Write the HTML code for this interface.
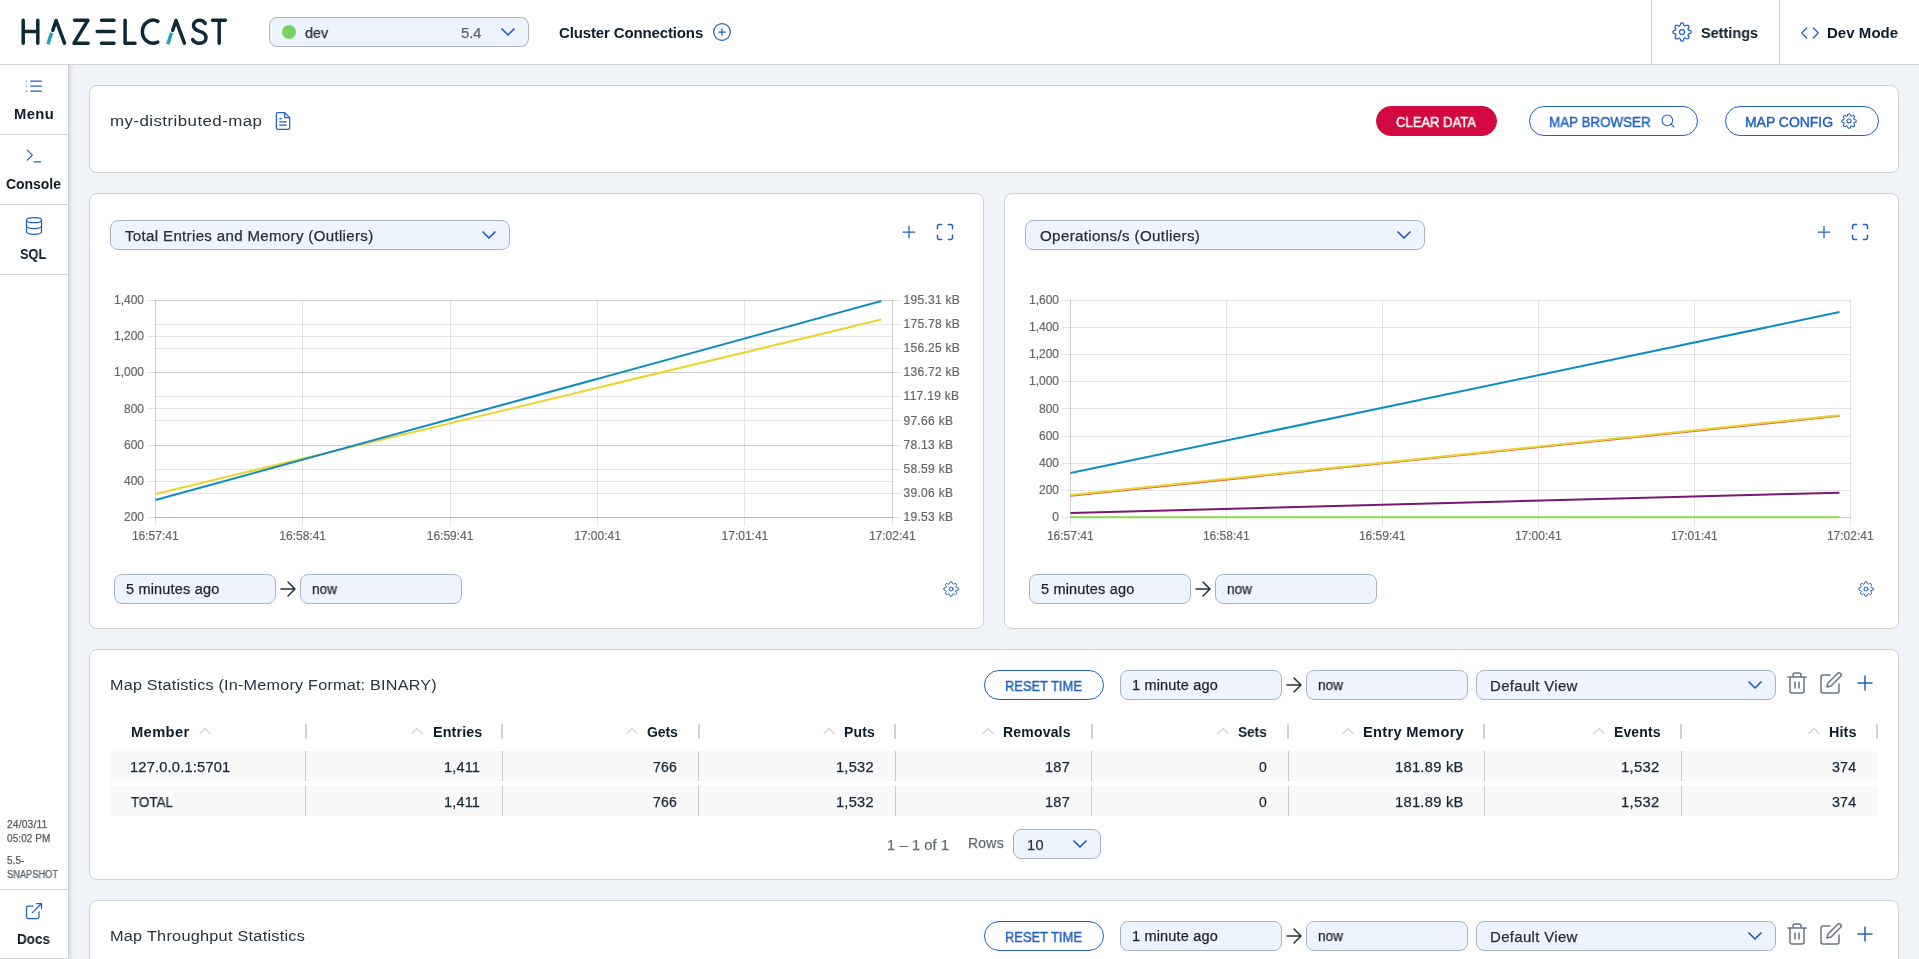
<!DOCTYPE html>
<html lang="en">
<head>
<meta charset="utf-8">
<title>Hazelcast Management Center - my-distributed-map</title>
<style>
*{box-sizing:border-box;margin:0;padding:0}
html,body{width:1919px;height:959px;overflow:hidden}
body{position:relative;background:#f0f3f8;font-family:"Liberation Sans",sans-serif;color:#1c2733;-webkit-font-smoothing:antialiased}
.t{position:absolute;white-space:nowrap;line-height:1;font-size:14px;will-change:transform}
.t{-webkit-text-stroke:.25px currentColor}
.b{font-weight:700;-webkit-text-stroke:0}
h1.t,h2.t{-webkit-text-stroke:0;color:#2b3743}
svg{position:absolute;overflow:visible}
svg.plot{will-change:transform}
svg.plot text{stroke:#666;stroke-width:.2px}
.ic{fill:none;stroke:#2160c0;stroke-width:1.5;stroke-linecap:round;stroke-linejoin:round}
.ig{fill:none;stroke:#6b7385;stroke-width:1.5;stroke-linecap:round;stroke-linejoin:round}
.id{fill:none;stroke:#27303d;stroke-width:1.5;stroke-linecap:round;stroke-linejoin:round}
/* header */
header{position:absolute;left:0;top:0;width:1919px;height:65px;background:#fff;border-bottom:1px solid #d2d2d2}
.vsep{position:absolute;top:0;width:1px;height:64px;background:#d2d2d2}
/* sidebar */
nav{position:absolute;left:0;top:65px;width:69px;height:894px;background:#fff;border-right:1px solid #cfcfcf}
nav .item{position:absolute;left:0;width:68px;height:70px;border-bottom:1px solid #d6d6d6}
nav .item svg{left:24px;top:11px;width:20px;height:20px}
.shade{position:absolute;left:69px;top:65px;width:5px;height:894px;background:linear-gradient(90deg,rgba(125,132,150,.19),rgba(125,132,150,0))}
/* cards */
.card{position:absolute;background:#fff;border:1px solid #d1d1d1;border-radius:8px}
/* inputs */
.inp{position:absolute;height:30px;background:#eef4fe;border:1px solid #a9b4c1;border-radius:8px}
.btn{position:absolute;height:30px;border:1px solid #2160c0;border-radius:15px;background:#fff;color:#2160c0}
.btn.red{background:#d3083f;border-color:#d3083f;color:#fff}
.blue{color:#2160c0;-webkit-text-stroke:.4px currentColor}
.grey{color:#5d6470}
/* table */
.row{position:absolute;left:20px;width:1768px;height:30px;background:#f9f9f9}
.cs{position:absolute;width:1px;background:#cbcbcb}
.hs{position:absolute;width:2px;height:15px;background:#d2d2d2;top:75px}
</style>
</head>
<body>
<svg width="0" height="0" style="left:-10px;top:-10px"><defs>
    <symbol id="gear" viewBox="0 0 24 24"><circle cx="12" cy="12" r="3"/><path d="M19.4 15a1.65 1.65 0 0 0 .33 1.82l.06.06a2 2 0 0 1 0 2.83 2 2 0 0 1-2.83 0l-.06-.06a1.65 1.65 0 0 0-1.82-.33 1.65 1.65 0 0 0-1 1.51V21a2 2 0 0 1-2 2 2 2 0 0 1-2-2v-.09A1.65 1.65 0 0 0 9 19.4a1.65 1.65 0 0 0-1.82.33l-.06.06a2 2 0 0 1-2.83 0 2 2 0 0 1 0-2.83l.06-.06a1.65 1.65 0 0 0 .33-1.82 1.65 1.65 0 0 0-1.51-1H3a2 2 0 0 1-2-2 2 2 0 0 1 2-2h.09A1.65 1.65 0 0 0 4.6 9a1.65 1.65 0 0 0-.33-1.82l-.06-.06a2 2 0 0 1 0-2.83 2 2 0 0 1 2.83 0l.06.06a1.65 1.65 0 0 0 1.82.33H9a1.65 1.65 0 0 0 1-1.51V3a2 2 0 0 1 2-2 2 2 0 0 1 2 2v.09a1.65 1.65 0 0 0 1 1.51 1.65 1.65 0 0 0 1.82-.33l.06-.06a2 2 0 0 1 2.83 0 2 2 0 0 1 0 2.83l-.06.06a1.65 1.65 0 0 0-.33 1.82V9a1.65 1.65 0 0 0 1.51 1H21a2 2 0 0 1 2 2 2 2 0 0 1-2 2h-.09a1.65 1.65 0 0 0-1.51 1z"/></symbol>
    <symbol id="chev" viewBox="0 0 24 24"><path d="M6 9l6 6 6-6"/></symbol>
    <symbol id="up" viewBox="0 0 24 24"><path d="M18 15l-6-6-6 6"/></symbol>
    <symbol id="plus" viewBox="0 0 24 24"><path d="M12 5v14M5 12h14"/></symbol>
    <symbol id="arrow" viewBox="0 0 24 24"><path d="M5 12h14M12 5l7 7-7 7"/></symbol>
    <symbol id="max" viewBox="0 0 24 24"><path d="M8 3H5a2 2 0 0 0-2 2v3m18 0V5a2 2 0 0 0-2-2h-3m0 18h3a2 2 0 0 0 2-2v-3M3 16v3a2 2 0 0 0 2 2h3"/></symbol>
    <symbol id="trash" viewBox="0 0 24 24"><path d="M3 6h18M19 6v14a2 2 0 0 1-2 2H7a2 2 0 0 1-2-2V6m3 0V4a2 2 0 0 1 2-2h4a2 2 0 0 1 2 2v2M10 11v6M14 11v6"/></symbol>
    <symbol id="edit" viewBox="0 0 24 24"><path d="M11 4H4a2 2 0 0 0-2 2v14a2 2 0 0 0 2 2h14a2 2 0 0 0 2-2v-7"/><path d="M18.5 2.5a2.121 2.121 0 0 1 3 3L12 15l-4 1 1-4 9.5-9.5z"/></symbol>
  </defs></svg>

<header>
  <svg style="left:0;top:0;width:240px;height:64px" viewBox="0 0 240 64" fill="none" stroke="#0e2836" stroke-width="3.5" stroke-linecap="round" stroke-linejoin="round">
    <path d="M23.2 20.2V43.2M37.8 20.2V43.2M23.2 31.5H37.8"/>
    <path d="M52.8 30.3L56.1 20.5L64.5 43.2" />
    <path d="M51.6 32.7L47.9 44.3" stroke="#22a3b8" stroke-linecap="butt"/>
    <path d="M74.6 20.2H88L74 43.2H88.1"/>
    <path d="M101.5 20.2H114M97.2 31.5H114M101.5 43.2H114"/>
    <path d="M125.1 20.2V43.2H135"/>
    <path d="M157.8 21.4A10.7 11.5 0 1 0 157.8 42"/>
    <path d="M172.7 30.3L176 20.5L184.4 43.2"/>
    <path d="M171.5 32.7L167.8 44.3" stroke="#22a3b8" stroke-linecap="butt"/>
    <path d="M205.2 23.4C203.9 21.3 201.9 20.2 199.5 20.2C196 20.2 193.5 22.4 193.5 25.6C193.5 29 196.3 30.4 199.6 31.4C203.2 32.5 206 34 206 37.4C206 40.8 203.2 43.2 199.5 43.2C196.5 43.2 194 41.9 192.7 39.6"/>
    <path d="M212.5 20.2H225.4M219.2 20.2V43.2"/>
  </svg>
  <div class="inp" style="left:269px;top:17px;width:260px">
    <i style="position:absolute;left:12px;top:7px;width:14px;height:14px;border-radius:50%;background:#78d168"></i>
  </div>
  <span class="t" style="left:305px;top:25px;transform:scaleX(0.9561);transform-origin:0 50%;font-size:15px;color:#2a2f36">dev</span>
  <span class="t" style="left:461px;top:25px;letter-spacing:-0.205px;font-size:15px;color:#5b626c">5.4</span>
  <svg class="ic" style="left:496px;top:20px;width:24px;height:24px;stroke-width:1.7"><use href="#chev"/></svg>
  <span class="t b" style="left:559px;top:25px;letter-spacing:-0.136px;font-size:15px;color:#0f1b28">Cluster Connections</span>
  <svg class="ic" style="left:712px;top:22px;width:20px;height:20px" viewBox="0 0 24 24"><circle cx="12" cy="12" r="10"/><path d="M12 8v8M8 12h8"/></svg>
  <div class="vsep" style="left:1651px"></div>
  <div class="vsep" style="left:1779px"></div>
  <svg class="ic" style="left:1671.85px;top:22px;width:20px;height:20px"><use href="#gear"/></svg>
  <svg class="ic" style="left:1800px;top:22.5px;width:20px;height:20px" viewBox="0 0 24 24"><path d="M16 18l6-6-6-6M8 6l-6 6 6 6"/></svg>
  <span class="t b" style="left:1701px;top:25px;transform:scaleX(0.9638);transform-origin:0 50%;font-size:15px;color:#0f1b28">Settings</span>
  <span class="t b" style="left:1827px;top:25px;letter-spacing:0.042px;font-size:15px;color:#0f1b28">Dev Mode</span>
</header>

<nav>
  <div class="item" style="top:0">
    <svg class="ic" viewBox="0 0 24 24"><path d="M8 6h13M8 12h13M8 18h13M3 6h.01M3 12h.01M3 18h.01"/></svg>
  </div>
  <div class="item" style="top:70px">
    <svg class="ic" viewBox="0 0 24 24"><path d="M4 17l6-6-6-6M12 19h8"/></svg>
  </div>
  <div class="item" style="top:140px">
    <svg class="ic" viewBox="0 0 24 24"><ellipse cx="12" cy="5" rx="9" ry="3"/><path d="M21 12c0 1.66-4 3-9 3s-9-1.34-9-3"/><path d="M3 5v14c0 1.66 4 3 9 3s9-1.34 9-3V5"/></svg>
  </div>
  <div class="item" style="top:824px;height:70px;border-top:1px solid #d6d6d6">
    <svg class="ic" style="top:11px" viewBox="0 0 24 24"><path d="M18 13v6a2 2 0 0 1-2 2H5a2 2 0 0 1-2-2V8a2 2 0 0 1 2-2h6M15 3h6v6M10 14L21 3"/></svg>
  </div>
</nav>
<div class="shade"></div>
<span class="t b" style="left:14px;top:107px;letter-spacing:0.405px;transform:scaleX(1.0533);transform-origin:0 50%;color:#0f1b28">Menu</span>
<span class="t b" style="left:6px;top:177px;letter-spacing:-0.04px;color:#0f1b28">Console</span>
<span class="t b" style="left:20px;top:247px;transform:scaleX(0.9135);transform-origin:0 50%;color:#0f1b28">SQL</span>
<span class="t b" style="left:17px;top:932px;transform:scaleX(0.9609);transform-origin:0 50%;color:#0f1b28">Docs</span>
<span class="t" style="left:7px;top:820px;letter-spacing:0.115px;transform:scaleX(1.0323);transform-origin:0 50%;font-size:10px;color:#555c66">24/03/11</span>
<span class="t" style="left:7px;top:834px;letter-spacing:0.075px;font-size:10px;color:#555c66">05:02 PM</span>
<span class="t" style="left:7px;top:856px;letter-spacing:0.033px;font-size:10px;color:#555c66">5.5-</span>
<span class="t" style="left:7px;top:870px;transform:scaleX(0.9271);transform-origin:0 50%;font-size:10px;color:#555c66">SNAPSHOT</span>

<main>
<!-- card 1: title -->
<section class="card" style="left:89px;top:85px;width:1810px;height:88px">
  <h1 class="t" style="left:20px;top:27px;letter-spacing:0.415px;transform:scaleX(1.0878);transform-origin:0 50%;font-size:15.5px;font-weight:400;color:#27333f">my-distributed-map</h1>
  <svg class="ic" style="left:183.14999999999998px;top:25px;width:20px;height:20px" viewBox="0 0 24 24"><path d="M14 2H6a2 2 0 0 0-2 2v16a2 2 0 0 0 2 2h12a2 2 0 0 0 2-2V8zM14 2v6h6M16 13H8M16 17H8M10 9H8"/></svg>
  <div class="btn red" style="left:1286px;top:20px;width:121px"></div>
  <span class="t" style="left:1306px;top:29px;transform:scaleX(0.9319);transform-origin:0 50%;color:#fff;-webkit-text-stroke:.4px #fff">CLEAR DATA</span>
  <div class="btn" style="left:1439px;top:20px;width:169px"></div>
  <span class="t blue" style="left:1459px;top:29px;transform:scaleX(0.9559);transform-origin:0 50%;">MAP BROWSER</span>
  <svg class="ic" style="left:1569.85px;top:27px;width:16px;height:16px;stroke-width:1.6" viewBox="0 0 24 24"><circle cx="11" cy="11" r="8"/><path d="M21 21l-4.35-4.35"/></svg>
  <div class="btn" style="left:1635px;top:20px;width:154px"></div>
  <span class="t blue" style="left:1655px;top:29px;letter-spacing:-0.042px;">MAP CONFIG</span>
  <svg class="ic" style="left:1750.7px;top:27px;width:16px;height:16px;stroke-width:1.6"><use href="#gear"/></svg>
</section>

<!-- card 2: left chart -->
<section class="card" style="left:89px;top:193px;width:895px;height:436px">
  <svg class="plot" style="left:0;top:0;width:893px;height:434px" viewBox="90 194 893 434" font-family="Liberation Sans, sans-serif" font-size="12" fill="#666">
   <g stroke="rgba(0,0,0,0.1)" stroke-width="1" shape-rendering="crispEdges">
    <path d="M147 300.5H893"/>
    <path d="M147 336.5H893"/>
    <path d="M147 372.5H893"/>
    <path d="M147 408.5H893"/>
    <path d="M147 445.5H893"/>
    <path d="M147 481.5H893"/>
    <path d="M147 517.5H893"/>
    <path d="M155 300.5H901"/>
    <path d="M155 324.5H901"/>
    <path d="M155 348.5H901"/>
    <path d="M155 372.5H901"/>
    <path d="M155 396.5H901"/>
    <path d="M155 420.5H901"/>
    <path d="M155 445.5H901"/>
    <path d="M155 469.5H901"/>
    <path d="M155 493.5H901"/>
    <path d="M155 517.5H901"/>
    <path d="M155.5 300V526"/>
    <path d="M302.5 300V526"/>
    <path d="M450.5 300V526"/>
    <path d="M597.5 300V526"/>
    <path d="M744.5 300V526"/>
    <path d="M892.5 300V526"/>
    <path d="M155.5 300V518"/>
    <path d="M155 517.5H893"/>
    <path d="M892.5 300V518"/>
   </g>
   <g text-anchor="end">
    <text x="144" y="304">1,400</text>
    <text x="144" y="340.17">1,200</text>
    <text x="144" y="376.33">1,000</text>
    <text x="144" y="412.5">800</text>
    <text x="144" y="448.67">600</text>
    <text x="144" y="484.83">400</text>
    <text x="144" y="521">200</text>
   </g>
   <g letter-spacing=".28">
    <text x="903.6" y="304">195.31 kB</text>
    <text x="903.6" y="328.11">175.78 kB</text>
    <text x="903.6" y="352.22">156.25 kB</text>
    <text x="903.6" y="376.33">136.72 kB</text>
    <text x="903.6" y="400.44">117.19 kB</text>
    <text x="903.6" y="424.56">97.66 kB</text>
    <text x="903.6" y="448.67">78.13 kB</text>
    <text x="903.6" y="472.78">58.59 kB</text>
    <text x="903.6" y="496.89">39.06 kB</text>
    <text x="903.6" y="521">19.53 kB</text>
   </g>
   <g text-anchor="middle">
    <text x="155.3" y="540.3">16:57:41</text>
    <text x="302.7" y="540.3">16:58:41</text>
    <text x="450.1" y="540.3">16:59:41</text>
    <text x="597.5" y="540.3">17:00:41</text>
    <text x="744.9" y="540.3">17:01:41</text>
    <text x="892.3" y="540.3">17:02:41</text>
   </g>
   <g fill="none" stroke-width="2" stroke-linejoin="round">
    <path stroke="#ecd42d" d="M155.5 494L881.5 319.5"/>
    <path stroke="#0f8cc6" d="M155.5 500L881.5 301"/>
   </g>
  </svg>
  <div class="inp" style="left:20px;top:26px;width:400px"></div>
  <span class="t" style="left:35px;top:35px;letter-spacing:0.306px;transform:scaleX(1.0765);transform-origin:0 50%;color:#2a2f36">Total Entries and Memory (Outliers)</span>
  <svg class="ic" style="left:387px;top:29px;width:24px;height:24px;stroke-width:1.7"><use href="#chev"/></svg>
  <svg class="ic" style="left:809px;top:28px;width:20px;height:20px"><use href="#plus"/></svg>
  <svg class="ic" style="left:844.85px;top:27.900000000000006px;width:20px;height:20px;stroke-width:1.8"><use href="#max"/></svg>
  <div class="inp" style="left:24px;top:380px;width:162px"></div>
  <span class="t" style="left:36px;top:388px;letter-spacing:0.172px;transform:scaleX(1.0364);transform-origin:0 50%;color:#1d232b">5 minutes ago</span>
  <svg class="id" style="left:185.8px;top:382.75px;width:24px;height:24px"><use href="#arrow"/></svg>
  <div class="inp" style="left:210px;top:380px;width:162px"></div>
  <span class="t" style="left:222px;top:388px;transform:scaleX(0.9747);transform-origin:0 50%;color:#1d232b">now</span>
  <svg class="ic" style="left:853px;top:387px;width:16px;height:16px;stroke-width:1.5"><use href="#gear"/></svg>
</section>

<!-- card 3: right chart -->
<section class="card" style="left:1004px;top:193px;width:895px;height:436px">
  <svg class="plot" style="left:0;top:0;width:893px;height:434px" viewBox="1005 194 893 434" font-family="Liberation Sans, sans-serif" font-size="12" fill="#666">
   <g stroke="rgba(0,0,0,0.1)" stroke-width="1" shape-rendering="crispEdges">
    <path d="M1062 300.5H1851"/>
    <path d="M1062 327.5H1851"/>
    <path d="M1062 354.5H1851"/>
    <path d="M1062 381.5H1851"/>
    <path d="M1062 408.5H1851"/>
    <path d="M1062 436.5H1851"/>
    <path d="M1062 463.5H1851"/>
    <path d="M1062 490.5H1851"/>
    <path d="M1062 517.5H1851"/>
    <path d="M1070.5 300V526"/>
    <path d="M1226.5 300V526"/>
    <path d="M1382.5 300V526"/>
    <path d="M1538.5 300V526"/>
    <path d="M1694.5 300V526"/>
    <path d="M1850.5 300V526"/>
    <path d="M1070.5 300V518"/>
    <path d="M1070 517.5H1851"/>
   </g>
   <g text-anchor="end">
    <text x="1059" y="304">1,600</text>
    <text x="1059" y="331.12">1,400</text>
    <text x="1059" y="358.25">1,200</text>
    <text x="1059" y="385.38">1,000</text>
    <text x="1059" y="412.5">800</text>
    <text x="1059" y="439.62">600</text>
    <text x="1059" y="466.75">400</text>
    <text x="1059" y="493.88">200</text>
    <text x="1059" y="521">0</text>
   </g>
   <g text-anchor="middle">
    <text x="1070.3" y="540.3">16:57:41</text>
    <text x="1226.3" y="540.3">16:58:41</text>
    <text x="1382.3" y="540.3">16:59:41</text>
    <text x="1538.3" y="540.3">17:00:41</text>
    <text x="1694.3" y="540.3">17:01:41</text>
    <text x="1850.3" y="540.3">17:02:41</text>
   </g>
   <g fill="none" stroke-width="2" stroke-linejoin="round">
    <path stroke="#86da4f" d="M1070.5 517.2L1839.5 517.2"/>
    <path stroke="#7c1671" d="M1070.5 513.1L1839.5 492.7"/>
    <path stroke="#d9534f" d="M1070.5 495.65L1839.5 415.85"/>
    <path stroke="#ecd42d" d="M1070.5 495.1L1839.5 415.3"/>
    <path stroke="#0f8cc6" d="M1070.5 473.1L1839.5 312.1"/>
   </g>
  </svg>
  <div class="inp" style="left:20px;top:26px;width:400px"></div>
  <span class="t" style="left:35px;top:35px;letter-spacing:0.32px;transform:scaleX(1.0815);transform-origin:0 50%;color:#2a2f36">Operations/s (Outliers)</span>
  <svg class="ic" style="left:387px;top:29px;width:24px;height:24px;stroke-width:1.7"><use href="#chev"/></svg>
  <svg class="ic" style="left:809px;top:28px;width:20px;height:20px"><use href="#plus"/></svg>
  <svg class="ic" style="left:844.8499999999999px;top:27.900000000000006px;width:20px;height:20px;stroke-width:1.8"><use href="#max"/></svg>
  <div class="inp" style="left:24px;top:380px;width:162px"></div>
  <span class="t" style="left:36px;top:388px;letter-spacing:0.172px;transform:scaleX(1.0364);transform-origin:0 50%;color:#1d232b">5 minutes ago</span>
  <svg class="id" style="left:185.79999999999995px;top:382.75px;width:24px;height:24px"><use href="#arrow"/></svg>
  <div class="inp" style="left:210px;top:380px;width:162px"></div>
  <span class="t" style="left:222px;top:388px;transform:scaleX(0.9747);transform-origin:0 50%;color:#1d232b">now</span>
  <svg class="ic" style="left:853px;top:387px;width:16px;height:16px;stroke-width:1.5"><use href="#gear"/></svg>
</section>

<!-- card 4: map statistics -->
<section class="card" style="left:89px;top:649px;width:1810px;height:231px">
  <h2 class="t" style="left:20px;top:27px;letter-spacing:0.211px;transform:scaleX(1.0436);transform-origin:0 50%;font-size:15.5px;font-weight:400;color:#27333f">Map Statistics (In-Memory Format: BINARY)</h2>
  <div class="btn" style="left:894px;top:20px;width:120px"></div>
  <span class="t blue" style="left:915px;top:29px;transform:scaleX(0.9217);transform-origin:0 50%;">RESET TIME</span>
  <div class="inp" style="left:1030px;top:20px;width:162px"></div>
  <span class="t" style="left:1042px;top:28px;letter-spacing:0.17px;transform:scaleX(1.0362);transform-origin:0 50%;color:#1d232b">1 minute ago</span>
  <svg class="id" style="left:1192.1px;top:23px;width:24px;height:24px"><use href="#arrow"/></svg>
  <div class="inp" style="left:1216px;top:20px;width:162px"></div>
  <span class="t" style="left:1228px;top:28px;transform:scaleX(0.9747);transform-origin:0 50%;color:#1d232b">now</span>
  <div class="inp" style="left:1386px;top:20px;width:300px"></div>
  <span class="t" style="left:1400px;top:29px;letter-spacing:0.308px;transform:scaleX(1.0696);transform-origin:0 50%;color:#2a2f36">Default View</span>
  <svg class="ic" style="left:1652.85px;top:23px;width:24px;height:24px;stroke-width:1.7"><use href="#chev"/></svg>
  <svg class="ig" style="left:1695px;top:21px;width:24px;height:24px"><use href="#trash"/></svg>
  <svg class="ig" style="left:1729px;top:21px;width:24px;height:24px"><use href="#edit"/></svg>
  <svg class="ic" style="left:1763px;top:21px;width:24px;height:24px"><use href="#plus"/></svg>
  <div class="thead">
    <span class="t b" style="left:41px;top:75px;letter-spacing:0.348px;transform:scaleX(1.0505);transform-origin:0 50%;color:#0f1b28">Member</span>
    <svg style="left:105px;top:71px;width:20px;height:20px;fill:none;stroke:#cfd2d6;stroke-width:1.3;stroke-linecap:round;stroke-linejoin:round"><use href="#up"/></svg>
    <i class="hs" style="left:214.84px;top:74px"></i>
    <span class="t b" style="left:343px;top:75px;letter-spacing:0.119px;transform:scaleX(1.023);transform-origin:0 50%;color:#0f1b28">Entries</span>
    <svg style="left:317.1px;top:71px;width:20px;height:20px;fill:none;stroke:#cfd2d6;stroke-width:1.3;stroke-linecap:round;stroke-linejoin:round"><use href="#up"/></svg>
    <i class="hs" style="left:411.28px;top:74px"></i>
    <span class="t b" style="left:557px;top:75px;letter-spacing:-0.113px;color:#0f1b28">Gets</span>
    <svg style="left:531.7px;top:71px;width:20px;height:20px;fill:none;stroke:#cfd2d6;stroke-width:1.3;stroke-linecap:round;stroke-linejoin:round"><use href="#up"/></svg>
    <i class="hs" style="left:607.72px;top:74px"></i>
    <span class="t b" style="left:754px;top:75px;letter-spacing:0.149px;color:#0f1b28">Puts</span>
    <svg style="left:728.6px;top:71px;width:20px;height:20px;fill:none;stroke:#cfd2d6;stroke-width:1.3;stroke-linecap:round;stroke-linejoin:round"><use href="#up"/></svg>
    <i class="hs" style="left:804.16px;top:74px"></i>
    <span class="t b" style="left:913px;top:75px;letter-spacing:0.192px;color:#0f1b28">Removals</span>
    <svg style="left:887.9px;top:71px;width:20px;height:20px;fill:none;stroke:#cfd2d6;stroke-width:1.3;stroke-linecap:round;stroke-linejoin:round"><use href="#up"/></svg>
    <i class="hs" style="left:1000.6px;top:74px"></i>
    <span class="t b" style="left:1148px;top:75px;transform:scaleX(0.9736);transform-origin:0 50%;color:#0f1b28">Sets</span>
    <svg style="left:1122.9px;top:71px;width:20px;height:20px;fill:none;stroke:#cfd2d6;stroke-width:1.3;stroke-linecap:round;stroke-linejoin:round"><use href="#up"/></svg>
    <i class="hs" style="left:1197.04px;top:74px"></i>
    <span class="t b" style="left:1273px;top:75px;letter-spacing:0.258px;transform:scaleX(1.0476);transform-origin:0 50%;color:#0f1b28">Entry Memory</span>
    <svg style="left:1247.9px;top:71px;width:20px;height:20px;fill:none;stroke:#cfd2d6;stroke-width:1.3;stroke-linecap:round;stroke-linejoin:round"><use href="#up"/></svg>
    <i class="hs" style="left:1393.48px;top:74px"></i>
    <span class="t b" style="left:1524px;top:75px;letter-spacing:0.115px;color:#0f1b28">Events</span>
    <svg style="left:1498.6px;top:71px;width:20px;height:20px;fill:none;stroke:#cfd2d6;stroke-width:1.3;stroke-linecap:round;stroke-linejoin:round"><use href="#up"/></svg>
    <i class="hs" style="left:1589.92px;top:74px"></i>
    <span class="t b" style="left:1739px;top:75px;letter-spacing:0.135px;transform:scaleX(1.0234);transform-origin:0 50%;color:#0f1b28">Hits</span>
    <svg style="left:1713.6px;top:71px;width:20px;height:20px;fill:none;stroke:#cfd2d6;stroke-width:1.3;stroke-linecap:round;stroke-linejoin:round"><use href="#up"/></svg>
    <i class="hs" style="left:1786.36px;top:74px"></i>
  </div>
  <div class="row" style="top:101px"></div>
  <span class="t" style="left:40px;top:110px;letter-spacing:0.199px;transform:scaleX(1.0438);transform-origin:0 50%;color:#1c2733">127.0.0.1:5701</span>
  <span class="t" style="left:354px;top:110px;letter-spacing:0.173px;transform:scaleX(1.0324);transform-origin:0 50%;color:#1c2733">1,411</span>
  <span class="t" style="left:563px;top:110px;letter-spacing:0.214px;color:#1c2733">766</span>
  <span class="t" style="left:746px;top:110px;letter-spacing:0.235px;transform:scaleX(1.043);transform-origin:0 50%;color:#1c2733">1,532</span>
  <span class="t" style="left:955px;top:110px;letter-spacing:0.275px;transform:scaleX(1.038);transform-origin:0 50%;color:#1c2733">187</span>
  <span class="t" style="left:1169px;top:110px;color:#1c2733">0</span>
  <span class="t" style="left:1305px;top:110px;letter-spacing:0.252px;transform:scaleX(1.0514);transform-origin:0 50%;color:#1c2733">181.89 kB</span>
  <span class="t" style="left:1531px;top:110px;letter-spacing:0.299px;transform:scaleX(1.0552);transform-origin:0 50%;color:#1c2733">1,532</span>
  <span class="t" style="left:1742px;top:110px;letter-spacing:0.162px;transform:scaleX(1.0211);transform-origin:0 50%;color:#1c2733">374</span>
  <i class="cs" style="left:215px;top:101px;height:30px"></i>
  <i class="cs" style="left:412px;top:101px;height:30px"></i>
  <i class="cs" style="left:608px;top:101px;height:30px"></i>
  <i class="cs" style="left:805px;top:101px;height:30px"></i>
  <i class="cs" style="left:1001px;top:101px;height:30px"></i>
  <i class="cs" style="left:1198px;top:101px;height:30px"></i>
  <i class="cs" style="left:1394px;top:101px;height:30px"></i>
  <i class="cs" style="left:1591px;top:101px;height:30px"></i>
  <div class="row" style="top:136px"></div>
  <span class="t" style="left:41px;top:145px;transform:scaleX(0.956);transform-origin:0 50%;color:#1c2733">TOTAL</span>
  <span class="t" style="left:354px;top:145px;letter-spacing:0.173px;transform:scaleX(1.0324);transform-origin:0 50%;color:#1c2733">1,411</span>
  <span class="t" style="left:563px;top:145px;letter-spacing:0.214px;color:#1c2733">766</span>
  <span class="t" style="left:746px;top:145px;letter-spacing:0.235px;transform:scaleX(1.043);transform-origin:0 50%;color:#1c2733">1,532</span>
  <span class="t" style="left:955px;top:145px;letter-spacing:0.275px;transform:scaleX(1.038);transform-origin:0 50%;color:#1c2733">187</span>
  <span class="t" style="left:1169px;top:145px;color:#1c2733">0</span>
  <span class="t" style="left:1305px;top:145px;letter-spacing:0.252px;transform:scaleX(1.0514);transform-origin:0 50%;color:#1c2733">181.89 kB</span>
  <span class="t" style="left:1531px;top:145px;letter-spacing:0.299px;transform:scaleX(1.0552);transform-origin:0 50%;color:#1c2733">1,532</span>
  <span class="t" style="left:1742px;top:145px;letter-spacing:0.162px;transform:scaleX(1.0211);transform-origin:0 50%;color:#1c2733">374</span>
  <i class="cs" style="left:215px;top:136px;height:30px"></i>
  <i class="cs" style="left:412px;top:136px;height:30px"></i>
  <i class="cs" style="left:608px;top:136px;height:30px"></i>
  <i class="cs" style="left:805px;top:136px;height:30px"></i>
  <i class="cs" style="left:1001px;top:136px;height:30px"></i>
  <i class="cs" style="left:1198px;top:136px;height:30px"></i>
  <i class="cs" style="left:1394px;top:136px;height:30px"></i>
  <i class="cs" style="left:1591px;top:136px;height:30px"></i>
  <span class="t" style="left:797px;top:188px;letter-spacing:0.159px;transform:scaleX(1.0386);transform-origin:0 50%;color:#646a73">1 – 1 of 1</span>
  <span class="t" style="left:878px;top:186px;letter-spacing:0.231px;color:#646a73">Rows</span>
  <div class="inp" style="left:923px;top:179px;width:88px"></div>
  <span class="t" style="left:937px;top:188px;letter-spacing:0.352px;transform:scaleX(1.0371);transform-origin:0 50%;color:#2a2f36">10</span>
  <svg class="ic" style="left:977.7px;top:182px;width:24px;height:24px;stroke-width:1.7"><use href="#chev"/></svg>
</section>

<!-- card 5: throughput -->
<section class="card" style="left:89px;top:900px;width:1810px;height:120px">
  <h2 class="t" style="left:20px;top:27px;letter-spacing:0.239px;transform:scaleX(1.0505);transform-origin:0 50%;font-size:15.5px;font-weight:400;color:#27333f">Map Throughput Statistics</h2>
  <div class="btn" style="left:894px;top:20px;width:120px"></div>
  <span class="t blue" style="left:915px;top:29px;transform:scaleX(0.9217);transform-origin:0 50%;">RESET TIME</span>
  <div class="inp" style="left:1030px;top:20px;width:162px"></div>
  <span class="t" style="left:1042px;top:28px;letter-spacing:0.17px;transform:scaleX(1.0362);transform-origin:0 50%;color:#1d232b">1 minute ago</span>
  <svg class="id" style="left:1192.1px;top:23px;width:24px;height:24px"><use href="#arrow"/></svg>
  <div class="inp" style="left:1216px;top:20px;width:162px"></div>
  <span class="t" style="left:1228px;top:28px;transform:scaleX(0.9747);transform-origin:0 50%;color:#1d232b">now</span>
  <div class="inp" style="left:1386px;top:20px;width:300px"></div>
  <span class="t" style="left:1400px;top:29px;letter-spacing:0.308px;transform:scaleX(1.0696);transform-origin:0 50%;color:#2a2f36">Default View</span>
  <svg class="ic" style="left:1652.85px;top:23px;width:24px;height:24px;stroke-width:1.7"><use href="#chev"/></svg>
  <svg class="ig" style="left:1695px;top:21px;width:24px;height:24px"><use href="#trash"/></svg>
  <svg class="ig" style="left:1729px;top:21px;width:24px;height:24px"><use href="#edit"/></svg>
  <svg class="ic" style="left:1763px;top:21px;width:24px;height:24px"><use href="#plus"/></svg>
</section>
</main>
</body>
</html>
